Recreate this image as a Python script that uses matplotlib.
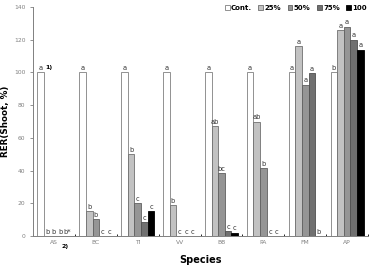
import numpy as np
import matplotlib
matplotlib.use("Agg")
import matplotlib.pyplot as plt

species = ["AS", "BC", "TI", "VV", "BB", "PA", "FM", "AP"]
series_names = ["Cont.", "25%", "50%", "75%", "100"]

cont = [100, 100, 100, 100, 100, 100, 100, 100]
p25 = [0, 15, 50, 19, 67, 70, 116, 126]
p50 = [0, 10.5, 20, 0, 38.5, 41.5, 92.5, 128]
p75 = [0, 0, 8.5, 0, 3, 0, 99.5, 120]
p100 = [0, 0, 15, 0, 2, 0, 0, 114]

lab_cont = ["a", "a", "a", "a", "a", "a", "a", "b"]
lab_25 = ["b", "b", "b", "b", "ab", "ab", "a", "a"]
lab_50 = ["b", "b", "c", "c", "bc", "b", "a", "a"]
lab_75 = ["b", "c", "c", "c", "c", "c", "a", "a"]
lab_100 = ["b*", "c", "c", "c", "c", "c", "b", "a"]

values = [cont, p25, p50, p75, p100]
letters = [lab_cont, lab_25, lab_50, lab_75, lab_100]
colors = ["white", "#c2c2c2", "#959595", "#707070", "black"]
edges = ["#808080", "#707070", "#606060", "#505050", "black"]

fig = plt.figure(figsize=(3.71, 2.65), dpi=100)
ax = fig.add_axes([0.089, 0.1094, 0.903, 0.864])

x = np.arange(len(species))
w = 0.158
for i, (vals, labs) in enumerate(zip(values, letters)):
    pos = x + (i - 2) * w
    ax.bar(pos, vals, w, color=colors[i], edgecolor=edges[i], linewidth=0.6,
           label=series_names[i])
    for xp, v, t in zip(pos, vals, labs):
        ax.text(xp, v + 0.8, t, ha="center", va="bottom", fontsize=4.8, color="#333333")

# footnote markers on AS group
ax.text(x[0] - 2 * w + 0.12, 101.5, "1)", fontsize=4.5, fontweight="bold", va="bottom")
ax.text(x[0] + 0.17, -6.5, "2)", fontsize=4.5, fontweight="bold", va="center")

ax.set_xlim(-0.5, len(species) - 0.5)
ax.set_ylim(0, 140)
ax.set_yticks(range(0, 141, 20))
ax.set_xticks(x)
ax.set_xticklabels(species)
ax.set_xticks(np.arange(-0.5, len(species)), minor=True)
ax.tick_params(axis="both", labelsize=4.3, labelcolor="#808080", colors="#808080",
               length=2, width=0.6)
ax.tick_params(axis="x", which="major", length=0, pad=3)
ax.tick_params(axis="x", which="minor", length=1.5, direction="in")
for side in ["top", "right"]:
    ax.spines[side].set_visible(False)
for side in ["left", "bottom"]:
    ax.spines[side].set_color("#808080")
    ax.spines[side].set_linewidth(0.7)

ax.set_ylabel("RER(Shoot, %)", fontsize=6.3, fontweight="bold")
ax.yaxis.set_label_coords(-0.068, 0.5)
ax.set_xlabel("Species", fontsize=7, fontweight="bold")
ax.xaxis.set_label_coords(0.5, -0.085)

ax.legend(ncol=5, loc="upper right", bbox_to_anchor=(1.005, 1.02), frameon=False,
          prop={"weight": "bold", "size": 5}, handlelength=0.7,
          handleheight=0.7, handletextpad=0.2, columnspacing=0.9, borderaxespad=0)

fig.savefig("out.png", dpi=100)
